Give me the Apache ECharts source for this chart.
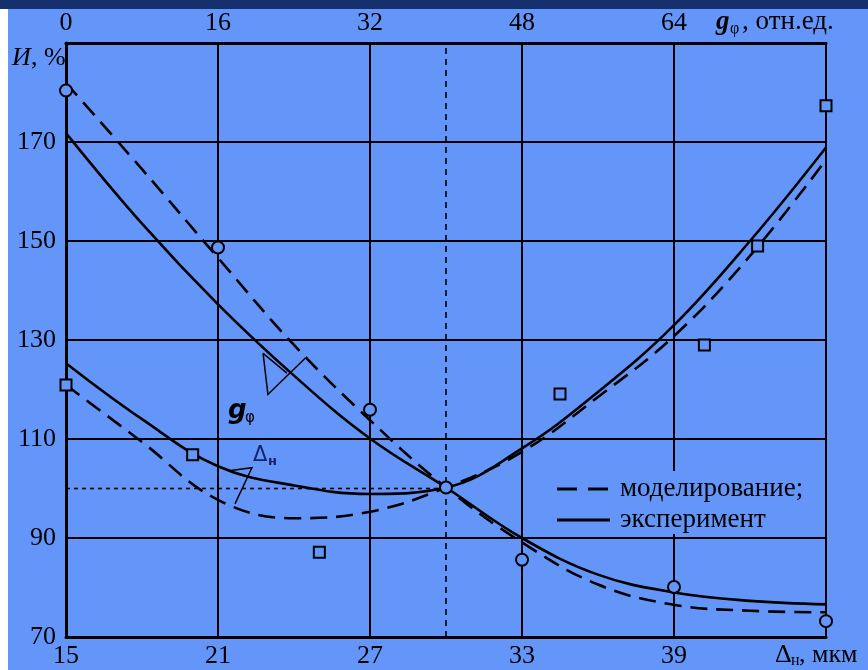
<!DOCTYPE html>
<html>
<head>
<meta charset="utf-8">
<script src="https://cdn.jsdelivr.net/npm/echarts/dist/echarts.min.js"></script>
<style>
html,body{margin:0;padding:0;background:#6496fa;}
#wrap{position:relative;width:868px;height:670px;background:#6496fa;overflow:hidden;}
#topstrip{position:absolute;left:0;top:0;width:868px;height:9px;background:#15306c;}
#leftstrip{position:absolute;left:0;top:9px;width:8px;height:661px;background:#ffffff;}
#chart{position:absolute;left:0;top:0;width:868px;height:670px;}
</style>
</head>
<body>
<div id="wrap"><div id="topstrip"></div><div id="leftstrip"></div><div id="chart"></div></div>
<script>
// ---- tick labels ----
const bottomTicks = [15, 21, 27, 33, 39];          // Δн, мкм
const topTicks = [0, 16, 32, 48, 64];              // gφ, отн.ед.
const yTicks = [70, 90, 110, 130, 150, 170];       // И, %

// ---- legend entries ----
const legendNames = ['моделирование;', 'эксперимент'];

// ---- gφ curves (x in gφ units, top axis) ----
const gphiX = [0, 8, 16, 24, 32, 40, 48, 56, 64, 72, 80];
const gphiExpY = [171.8, 153.5, 137.2, 122.8, 110.1, 100.2, 90.0, 82.6, 79.0, 77.3, 76.6];
const gphiModY = [181.9, 164.5, 146.6, 129.0, 113.8, 100.2, 89.1, 80.6, 76.5, 75.3, 75.0];
// gφ measured points (circles)
const gphiPtX = [0, 16, 32, 40, 48, 64, 80];
const gphiPtY = [180.4, 148.7, 115.9, 100.2, 85.6, 80.1, 73.2];

// ---- Δн curves (x in мкм, bottom axis) ----
const dnX = [15, 18, 21, 24, 27, 30, 33, 36, 39, 42, 45];
const dnExpY = [125.3, 114.0, 104.5, 100.6, 98.9, 100.2, 108.1, 119.5, 133.0, 150.0, 168.9];
const dnModY = [120.9, 109.4, 97.7, 94.0, 95.3, 100.2, 107.4, 118.5, 130.8, 147.0, 166.4];
// Δн measured points (squares)
const dnPtX = [15, 20, 25, 34.5, 40.2, 42.3, 45];
const dnPtY = [120.9, 106.8, 87.1, 119.1, 129.0, 149.0, 177.3];

// reference point
const refX = 30, refY = 100;

const zip = (xs, ys) => xs.map((x, i) => [x, ys[i]]);

const BG = '#6496fa';
const SERIF = '"Liberation Serif", "Times New Roman", serif';
const DASH = [17, 9];

const chart = echarts.init(document.getElementById('chart'), null, {renderer: 'canvas'});

const axisLbl = (ticks) => ({
  color: '#000', fontFamily: SERIF, fontSize: 26,
  formatter: v => ticks.includes(v) ? String(v) : ''
});

const option = {
  backgroundColor: 'transparent',
  animation: false,
  grid: {left: 66, right: 42, top: 43, bottom: 33, show: true, borderColor: '#000', borderWidth: 2, backgroundColor: 'transparent'},
  xAxis: [
    {type: 'value', position: 'bottom', min: 15, max: 45, interval: 6,
     axisLine: {show: true, onZero: false, lineStyle: {color: '#000', width: 3}},
     axisTick: {show: false},
     axisLabel: Object.assign(axisLbl(bottomTicks), {margin: 6}),
     splitLine: {show: true, lineStyle: {color: '#000', width: 2}}},
    {type: 'value', position: 'top', min: 0, max: 80, interval: 16,
     axisLine: {show: true, onZero: false, lineStyle: {color: '#000', width: 3}},
     axisTick: {show: false},
     axisLabel: Object.assign(axisLbl(topTicks), {margin: 7}),
     splitLine: {show: false}}
  ],
  yAxis: [
    {type: 'value', min: 70, max: 190, interval: 20,
     axisLine: {show: true, onZero: false, lineStyle: {color: '#000', width: 3}},
     axisTick: {show: false},
     axisLabel: Object.assign(axisLbl(yTicks), {margin: 10}),
     splitLine: {show: true, lineStyle: {color: '#000', width: 2}}}
  ],
  series: [
    {name: 'ref-v', type: 'line', xAxisIndex: 0, data: [[refX, 70], [refX, 190]], symbol: 'none', silent: true,
     lineStyle: {color: '#000', width: 1.6, type: [6, 5]}, z: 1},
    {name: 'ref-h', type: 'line', xAxisIndex: 0, data: [[15, refY], [refX, refY]], symbol: 'none', silent: true,
     lineStyle: {color: '#000', width: 1.6, type: [4, 4]}, z: 1},
    {name: legendNames[1], type: 'line', xAxisIndex: 1, data: zip(gphiX, gphiExpY), smooth: 0.4, symbol: 'none',
     itemStyle: {color: '#000'}, lineStyle: {color: '#000', width: 2.6}, z: 3},
    {name: legendNames[0], type: 'line', xAxisIndex: 1, data: zip(gphiX, gphiModY), smooth: 0.4, symbol: 'none',
     itemStyle: {color: '#000'}, lineStyle: {color: '#000', width: 2.6, type: DASH}, z: 3},
    {name: legendNames[1], type: 'line', xAxisIndex: 0, data: zip(dnX, dnExpY), smooth: 0.4, symbol: 'none',
     itemStyle: {color: '#000'}, lineStyle: {color: '#000', width: 2.6}, z: 3},
    {name: legendNames[0], type: 'line', xAxisIndex: 0, data: zip(dnX, dnModY), smooth: 0.4, symbol: 'none',
     itemStyle: {color: '#000'}, lineStyle: {color: '#000', width: 2.6, type: DASH}, z: 3},
    {name: 'gphi-pts', type: 'scatter', xAxisIndex: 1, data: zip(gphiPtX, gphiPtY), symbol: 'circle', symbolSize: 12,
     clip: false, itemStyle: {color: BG, borderColor: '#000', borderWidth: 2, opacity: 1}, z: 6},
    {name: 'dn-pts', type: 'scatter', xAxisIndex: 0, data: zip(dnPtX, dnPtY), symbol: 'rect', symbolSize: 11,
     clip: false, itemStyle: {color: BG, borderColor: '#000', borderWidth: 2, opacity: 1}, z: 6}
  ]
};
chart.setOption(option);

// ---- annotations, anchored in data coordinates (Δн, И) ----
const px = (x, y) => chart.convertToPixel({xAxisIndex: 0, yAxisIndex: 0}, [x, y]);
const gA = px(22.78, 127.3), gB = px(22.97, 119.0), gC = px(24.44, 126.3), gE = px(23.72, 123.3);
const dP = px(22.34, 104.2), dQ = px(21.43, 103.6), dR = px(21.67, 96.9);
const gLbl = px(21.95, 115.6), dLbl = px(22.86, 106.6);

const txt = (x, y, text, font, fill) => ({type: 'text', x: x, y: y, z: 20,
  style: {text: text, font: font, fill: fill || '#000', verticalAlign: 'middle', align: 'left'}});

// legend box (masks the grid like the original)
const LX = 548, LY = 471, LW = 267, LH = 63;
const row1 = LY + 18, row2 = LY + 49;

chart.setOption({
  graphic: [
    {type: 'polyline', z: 20, shape: {points: [gA, gB, gC]}, style: {stroke: '#000', lineWidth: 1.5, fill: null}},
    {type: 'polyline', z: 20, shape: {points: [gA, gE]}, style: {stroke: '#000', lineWidth: 1.5, fill: null}},
    {type: 'polyline', z: 20, shape: {points: [dQ, dP, dR]}, style: {stroke: '#000', lineWidth: 1.5, fill: null}},
    // gφ label inside plot
    txt(gLbl[0] - 14, gLbl[1], 'g', 'italic bold 26px "DejaVu Sans", sans-serif'),
    txt(gLbl[0] + 3, gLbl[1] + 7, 'φ', '15px "DejaVu Sans", sans-serif'),
    // Δн label inside plot
    txt(dLbl[0] - 12, dLbl[1], 'Δ', '21px "DejaVu Sans", sans-serif', '#15236a'),
    txt(dLbl[0] + 3, dLbl[1] + 6, 'н', 'bold 13px "DejaVu Sans", sans-serif', '#15236a'),
    // y axis title
    txt(12, 58, 'И', 'italic 26px "Liberation Serif", serif'),
    txt(31, 58, ', %', '26px "Liberation Serif", serif'),
    // top axis title
    txt(716, 22, 'g', 'italic bold 27px "Liberation Serif", serif'),
    txt(730, 29, 'φ', '16px "Liberation Serif", serif'),
    txt(742, 22, ', отн.ед.', '27px "Liberation Serif", serif'),
    // bottom axis title
    txt(775, 655, 'Δ', '26px "Liberation Serif", serif'),
    txt(791, 661, 'н', '16px "Liberation Serif", serif'),
    txt(799, 655, ', мкм', '26px "Liberation Serif", serif'),
    // legend
    {type: 'rect', z: 19, shape: {x: LX, y: LY, width: LW, height: LH}, style: {fill: BG}},
    {type: 'line', z: 20, shape: {x1: 557, y1: row1, x2: 610, y2: row1}, style: {stroke: '#000', lineWidth: 3, lineDash: [20, 11]}},
    {type: 'line', z: 20, shape: {x1: 557, y1: row2, x2: 610, y2: row2}, style: {stroke: '#000', lineWidth: 3}},
    txt(620, row1, legendNames[0], '27px "Liberation Serif", serif'),
    txt(620, row2, legendNames[1], '27px "Liberation Serif", serif')
  ]
});
</script>
</body>
</html>
